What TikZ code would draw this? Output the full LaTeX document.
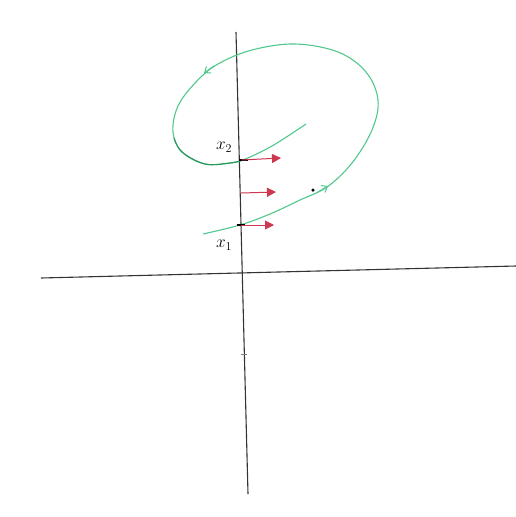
\documentclass[tikz,border=0pt]{standalone}
\usetikzlibrary{arrows.meta}
\definecolor{mint}{RGB}{80,200,140}
\definecolor{mintdark}{RGB}{40,150,90}
\definecolor{penred}{RGB}{205,55,80}
\tikzset{
  axis/.style={draw=black!80, line width=1.1pt},
  orbit/.style={draw=mint, line width=1.1pt},
  flow/.style={draw=penred, line width=1pt, -{Triangle[length=9pt,width=9pt]}},
  barb/.style={draw=mint, line width=1pt, -{Straight Barb[length=5pt,width=8pt]}},
  lbl/.style={font=\LARGE, inner sep=0pt}
}
\begin{document}
\begin{tikzpicture}[x=1pt,y=-1pt]
\useasboundingbox (0,0) rectangle (516,517);
% axes
\coordinate (vtop) at (236,32);
\coordinate (vbot) at (248,494);
\coordinate (hl) at (41,278);
\coordinate (hr) at (516,266);
\draw[axis] (vtop) -- (vbot);
\draw[axis] (hl) -- (hr);
\coordinate (tick) at (243.6,354);
\draw[black!50, line width=0.5pt] ([xshift=-3pt]tick) -- ([xshift=3pt]tick);
% orbit
\draw[orbit] plot[smooth, tension=0.6] coordinates {
 (203,234) (240,225) (270,214) (300,200) (327,187) (352,163) (372,130)
 (378,100) (366,72) (338,52) (295,44) (252,50) (218,64) (196,82)
 (178,106) (173,132) (182,152) (205,164) (230,163) (243,160) (272,146) (306,124)};
\draw[mintdark, line width=1.1pt] plot[smooth, tension=0.6] coordinates {(174,138) (182,152) (205,164) (230,163) (243,160)};
% direction marks on orbit
\coordinate (a1s) at (318,192);
\coordinate (a1e) at (328,186);
\draw[barb] (a1s) -- (a1e);
\coordinate (a2s) at (214,66);
\coordinate (a2e) at (204,73);
\draw[barb] (a2s) -- (a2e);
% points on axis
\coordinate (x1) at (240.5,225);
\coordinate (x2) at (241.5,160);
\coordinate (mid) at (241,193);
\draw[black, line width=2pt] ([xshift=-4pt]x1) -- ([xshift=4pt]x1);
\draw[black, line width=2pt] ([xshift=-3pt]x2) -- ([xshift=6pt]x2);
\coordinate (x1e) at (274,225);
\coordinate (x2e) at (281,158);
\coordinate (mide) at (276,192);
\draw[flow] (x1) -- (x1e);
\draw[flow] (x2) -- (x2e);
\draw[flow] (mid) -- (mide);
% dot
\node[circle, fill=black, inner sep=0pt, minimum size=3.5pt] (dot) at (313,190) {};
% labels
\node[lbl] (l1) at (224,245) {$x_1$};
\node[lbl] (l2) at (224,147) {$x_2$};
\end{tikzpicture}
\end{document}
